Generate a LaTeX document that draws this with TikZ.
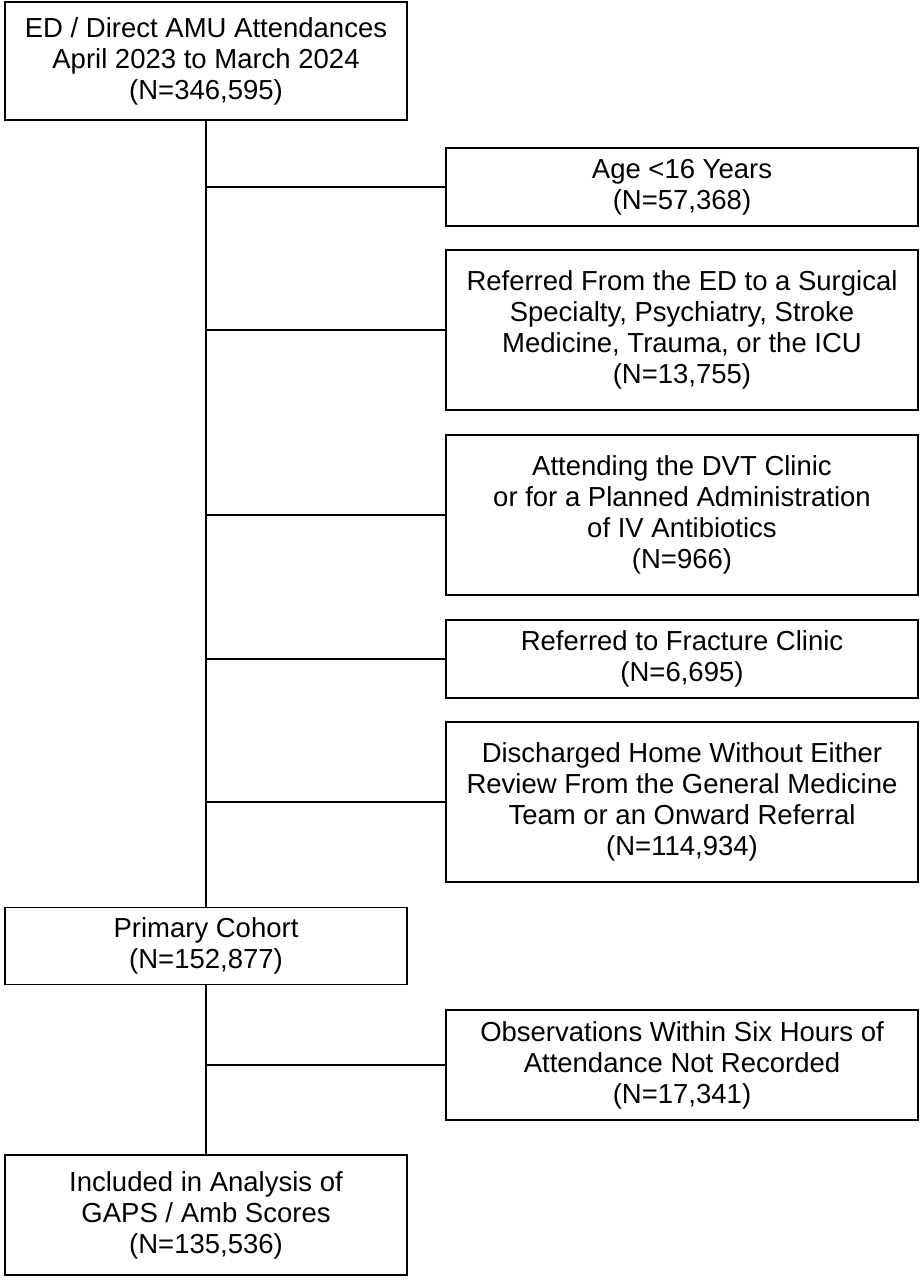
\documentclass[tikz,border=0pt]{standalone}
\usepackage{fontspec}
\setmainfont{Liberation Sans}
\begin{document}
\begin{tikzpicture}[x=1pt, y=-1pt, line width=1.6pt,
    box/.style={draw, align=center, inner sep=0pt, font=\fontsize{27.5}{31}\selectfont},
    mainbox/.style={box, minimum width=402pt},
    exclbox/.style={box, minimum width=472pt}]
    \useasboundingbox (0,0) rectangle (923,1280);
    % Main flow
    \node[mainbox, minimum height=118pt] (attend) at (206, 61) {ED / Direct AMU Attendances\\April 2023 to March 2024\\(N=346,595)};
    \node[mainbox, minimum height=77pt] (primary) at (206, 946) {Primary Cohort\\(N=152,877)};
    \node[mainbox, minimum height=120pt] (included) at (206, 1215) {Included in Analysis of\\GAPS / Amb Scores\\(N=135,536)};
    % Exclusions
    \node[exclbox, minimum height=78pt] (age) at (682, 187) {Age <16 Years\\(N=57,368)};
    \node[exclbox, minimum height=160pt] (surg) at (682, 330) {Referred From the ED to a Surgical\\Specialty, Psychiatry, Stroke\\Medicine, Trauma, or the ICU\\(N=13,755)};
    \node[exclbox, minimum height=160pt] (dvt) at (682, 515) {Attending the DVT Clinic\\or for a Planned Administration\\of IV Antibiotics\\(N=966)};
    \node[exclbox, minimum height=78pt] (fract) at (682, 659) {Referred to Fracture Clinic\\(N=6,695)};
    \node[exclbox, minimum height=160pt] (disch) at (682, 802) {Discharged Home Without Either\\Review From the General Medicine\\Team or an Onward Referral\\(N=114,934)};
    \node[exclbox, minimum height=110pt] (obs) at (682, 1065) {Observations Within Six Hours of\\Attendance Not Recorded\\(N=17,341)};
    % Connectors
    \draw (attend.south) -- (primary.north);
    \draw (primary.south) -- (included.north);
    \foreach \b in {age, surg, dvt, fract, disch, obs}
        \draw (attend.south |- \b.west) -- (\b.west);
\end{tikzpicture}
\end{document}
